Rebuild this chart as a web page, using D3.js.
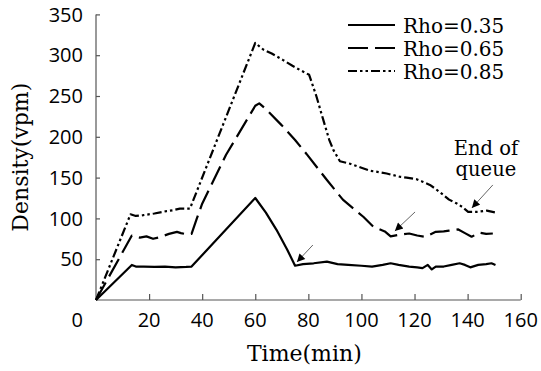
<!DOCTYPE html>
<html lang="en">
<head>
  <meta charset="UTF-8">
  <title>Density vs Time</title>
  <script src="https://d3js.org/d3.v7.min.js"></script>
  <style>
    body { margin: 0; background: #fff; }
    svg { display: block; }
    .tick-label { font-family: "Open Sans", sans-serif; font-size: 20px; fill: #000; }
    .title { font-family: "DejaVu Serif", serif; font-size: 22px; fill: #000; }
    .legend-text { font-family: "DejaVu Serif", serif; font-size: 20px; fill: #000; }
    .note { font-family: "DejaVu Serif", serif; font-size: 19.5px; fill: #000; }
  </style>
</head>
<body>
  <div id="chart"></div>
  <script>
    // series: [time (min), density (vpm)]
    const rho035 = [
      [0, 0], [13.5, 43], [15, 41], [18, 41], [22, 40.5], [26, 41], [30, 40], [34, 40.5], [36, 41],
      [60, 125], [64, 107], [68, 86], [72, 62], [75, 42], [78, 44], [82, 45], [87, 47], [91, 44],
      [95, 43], [100, 42], [104, 41], [108, 43], [111, 45], [114, 43], [118, 41], [121, 40],
      [123, 39], [125, 43], [126.5, 37.5], [128, 41], [131, 41], [134, 43], [137, 45], [139, 43],
      [141, 40], [144, 43], [147, 44], [149, 45], [150.5, 43]
    ];
    const rho065 = [
      [0, 0], [13.5, 79], [16.5, 76.5], [19, 78], [21.5, 75], [24, 77], [27.5, 81], [30.5, 83.5],
      [32, 82], [34, 80.5], [36, 81], [38, 100], [40, 118], [49, 178], [60, 238], [61.5, 241],
      [64, 234], [70, 214], [75, 196], [79.3, 179], [87, 147], [93, 123], [100.7, 102], [104.4, 90],
      [108.8, 84], [111, 78], [114.5, 80], [118, 81.5], [121, 79], [124, 77.5], [128, 83.5],
      [131, 84], [133, 85], [136.5, 86.5], [139, 82], [141.5, 77.5], [144.5, 82.5], [147, 81],
      [149.5, 81.5]
    ];
    const rho085 = [
      [0, 0], [13, 105], [15, 103], [17.8, 104], [22, 106], [26.6, 109], [29, 110], [31.6, 112],
      [35.4, 112], [60, 315], [63, 307], [66.2, 302], [70.5, 294], [74, 287], [76.8, 282],
      [80.3, 276], [83, 250], [85.6, 221], [87.9, 196], [89.4, 184], [91.9, 170], [95.7, 167],
      [100, 162], [103.2, 158.5], [106, 157], [109.5, 155], [114.5, 151], [117, 150], [120.8, 148],
      [123, 145], [125.8, 141], [128, 136], [130.8, 129], [133, 123], [135.8, 118.5], [138, 114],
      [140.2, 108], [143.4, 108], [147.2, 109.5], [150.9, 107]
    ];

    const seriesNames = ['Rho=0.35', 'Rho=0.65', 'Rho=0.85'];
    const seriesDash = [null, '20,7', '9,3,2.5,3,2.5,3'];
    const xTicks = [20, 40, 60, 80, 100, 120, 140, 160];
    const yTicks = [50, 100, 150, 200, 250, 300, 350];

    // arrows: [tail, tip] in data units
    const arrows = [
      [[81.7, 67.4], [75.7, 46.6]],
      [[120.2, 107.9], [112.6, 84.6]],
      [[149.5, 141], [141.6, 112.8]]
    ];
    const noteLines = ['End of', 'queue'];

    const W = 541, H = 371;
    const margin = { top: 14.4, right: 20.3, bottom: 71, left: 96 };

    const svg = d3.select('#chart').append('svg').attr('width', W).attr('height', H);

    const x = d3.scaleLinear().domain([0, 160]).range([margin.left, W - margin.right]);
    const y = d3.scaleLinear().domain([0, 350]).range([H - margin.bottom, margin.top]);

    const axisColor = '#555';

    // y axis, ticks point inward
    const gy = svg.append('g')
      .attr('transform', `translate(${x(0)},0)`)
      .call(d3.axisRight(y).tickValues(yTicks).tickSize(4).tickFormat(''));
    gy.select('.domain').attr('stroke', axisColor).attr('stroke-width', 1.2).attr('d', `M0,${y(350)}V${y(0)}`);
    gy.selectAll('.tick line').attr('stroke', axisColor).attr('stroke-width', 1.2);

    svg.selectAll('.ylab').data(yTicks).join('text')
      .attr('class', 'tick-label')
      .attr('x', x(0) - 13)
      .attr('y', d => y(d))
      .attr('dy', '0.36em')
      .attr('text-anchor', 'end')
      .text(d => d);

    // x axis, ticks point up
    const gx = svg.append('g')
      .attr('transform', `translate(0,${y(0)})`)
      .call(d3.axisTop(x).tickValues(xTicks).tickSize(6).tickFormat(''));
    gx.select('.domain').attr('stroke', axisColor).attr('stroke-width', 1.2).attr('d', `M${x(0)},0H${x(160)}`);
    gx.selectAll('.tick line').attr('stroke', axisColor).attr('stroke-width', 1.2);

    svg.selectAll('.xlab').data(xTicks).join('text')
      .attr('class', 'tick-label')
      .attr('x', d => x(d))
      .attr('y', y(0) + 27)
      .attr('text-anchor', 'middle')
      .text(d => d);

    // the origin label sits on the x label row, left of the axis
    svg.append('text')
      .attr('class', 'tick-label')
      .attr('x', x(0) - 13)
      .attr('y', y(0) + 27)
      .attr('text-anchor', 'end')
      .text(0);

    // axis titles
    svg.append('text')
      .attr('class', 'title')
      .attr('x', (x(0) + x(160)) / 2 - 4)
      .attr('y', 361)
      .attr('text-anchor', 'middle')
      .text('Time(min)');

    svg.append('text')
      .attr('class', 'title')
      .attr('transform', `translate(28,${(y(0) + y(350)) / 2}) rotate(-90)`)
      .attr('text-anchor', 'middle')
      .text('Density(vpm)');

    // lines
    const line = d3.line().x(d => x(d[0])).y(d => y(d[1]));
    [rho035, rho065, rho085].forEach((s, i) => {
      svg.append('path')
        .datum(s)
        .attr('fill', 'none')
        .attr('stroke', '#000')
        .attr('stroke-width', 2.2)
        .attr('stroke-linejoin', 'round')
        .attr('stroke-dasharray', seriesDash[i])
        .attr('d', line);
    });

    // legend
    const legend = svg.append('g');
    seriesNames.forEach((name, i) => {
      const ly = 25 + i * 23;
      legend.append('line')
        .attr('x1', 348).attr('x2', 395)
        .attr('y1', ly).attr('y2', ly)
        .attr('stroke', '#000')
        .attr('stroke-width', 2.2)
        .attr('stroke-dasharray', seriesDash[i]);
      legend.append('text')
        .attr('class', 'legend-text')
        .attr('x', 403)
        .attr('y', ly + 8)
        .text(name);
    });

    // arrows
    svg.append('defs').append('marker')
      .attr('id', 'head')
      .attr('viewBox', '0 0 10 10')
      .attr('refX', 10).attr('refY', 5)
      .attr('markerWidth', 10).attr('markerHeight', 8)
      .attr('markerUnits', 'userSpaceOnUse')
      .attr('orient', 'auto')
      .append('path')
      .attr('d', 'M0,0L10,5L0,10Z')
      .attr('fill', '#000');

    svg.selectAll('.arrow').data(arrows).join('line')
      .attr('x1', d => x(d[0][0])).attr('y1', d => y(d[0][1]))
      .attr('x2', d => x(d[1][0])).attr('y2', d => y(d[1][1]))
      .attr('stroke', '#666')
      .attr('stroke-width', 1)
      .attr('marker-end', 'url(#head)');

    // two-line note as one text block
    svg.append('text')
      .attr('class', 'note')
      .attr('text-anchor', 'middle')
      .selectAll('tspan').data(noteLines).join('tspan')
      .attr('x', x(146.9))
      .attr('y', (d, i) => 155 + i * 21)
      .text(d => d);
  </script>
</body>
</html>
